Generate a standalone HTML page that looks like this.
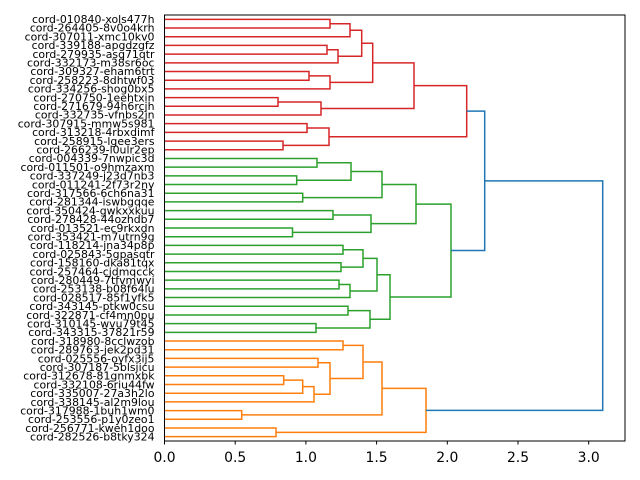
<!DOCTYPE html>
<html><head><meta charset="utf-8"><style>body{margin:0;background:#fff}svg{display:block}text{font-family:"DejaVu Sans","Liberation Sans",sans-serif;fill:#000}</style></head>
<body>
<svg id="s" width="640" height="480" viewBox="0 0 640 480" xmlns="http://www.w3.org/2000/svg">
<g id="lines" fill="none" stroke-width="1.5"></g>
<rect x="164.5" y="15" width="460.5" height="426" fill="none" stroke="#000" stroke-width="1"/>
<g font-size="13.9" text-anchor="middle">
<line x1="164.5" y1="441" x2="164.5" y2="444.5" stroke="#000"/><text x="164.5" y="462">0.0</text>
<line x1="235.2" y1="441" x2="235.2" y2="444.5" stroke="#000"/><text x="235.2" y="462">0.5</text>
<line x1="305.9" y1="441" x2="305.9" y2="444.5" stroke="#000"/><text x="305.9" y="462">1.0</text>
<line x1="376.6" y1="441" x2="376.6" y2="444.5" stroke="#000"/><text x="376.6" y="462">1.5</text>
<line x1="447.3" y1="441" x2="447.3" y2="444.5" stroke="#000"/><text x="447.3" y="462">2.0</text>
<line x1="518" y1="441" x2="518" y2="444.5" stroke="#000"/><text x="518" y="462">2.5</text>
<line x1="588.7" y1="441" x2="588.7" y2="444.5" stroke="#000"/><text x="588.7" y="462">3.0</text>
</g>
<g font-size="10.9" text-anchor="end" id="labels">
<text x="154.5" y="23">cord-010840-xols477h</text>
<text x="154.5" y="31.7">cord-264405-8v0o4krh</text>
<text x="154.5" y="40.4">cord-307011-xmc10kv0</text>
<text x="154.5" y="49.1">cord-339188-apgdzgfz</text>
<text x="154.5" y="57.8">cord-279935-asq71qtr</text>
<text x="154.5" y="66.5">cord-332173-m38sr6oc</text>
<text x="154.5" y="75.2">cord-309327-eham6trt</text>
<text x="154.5" y="83.9">cord-258223-8dhtwf03</text>
<text x="154.5" y="92.6">cord-334256-shog0bx5</text>
<text x="154.5" y="101.3">cord-270750-1eehtxin</text>
<text x="154.5" y="110">cord-271679-94h6rcjh</text>
<text x="154.5" y="118.7">cord-332735-vfnbs2jn</text>
<text x="154.5" y="127.4">cord-307915-mmw5s981</text>
<text x="154.5" y="136.1">cord-313218-4rbxdimf</text>
<text x="154.5" y="144.8">cord-258915-lgee3ers</text>
<text x="154.5" y="153.5">cord-266239-l0ulr2ep</text>
<text x="154.5" y="162.2">cord-004339-7nwpic3d</text>
<text x="154.5" y="170.9">cord-011501-o9hmzaxm</text>
<text x="154.5" y="179.6">cord-337249-j23d7nb3</text>
<text x="154.5" y="188.3">cord-011241-2f73r2ny</text>
<text x="154.5" y="197">cord-317566-6ch6na31</text>
<text x="154.5" y="205.7">cord-281344-iswbgqqe</text>
<text x="154.5" y="214.4">cord-350424-gwkxxkuu</text>
<text x="154.5" y="223.1">cord-278428-44ozhdb7</text>
<text x="154.5" y="231.8">cord-013521-ec9rkxdn</text>
<text x="154.5" y="240.5">cord-353421-m7utrn9g</text>
<text x="154.5" y="249.2">cord-118214-jna34p8p</text>
<text x="154.5" y="257.9">cord-025843-5gpasqtr</text>
<text x="154.5" y="266.6">cord-158160-dka81tqx</text>
<text x="154.5" y="275.3">cord-257464-cjdmqcck</text>
<text x="154.5" y="284">cord-280449-7tfvmwyi</text>
<text x="154.5" y="292.7">cord-253138-b08f64lu</text>
<text x="154.5" y="301.4">cord-028517-85f1yfk5</text>
<text x="154.5" y="310.1">cord-343145-ptkw0csu</text>
<text x="154.5" y="318.8">cord-322871-cf4mn0pu</text>
<text x="154.5" y="327.5">cord-310145-wvu79t45</text>
<text x="154.5" y="336.2">cord-343315-37821r59</text>
<text x="154.5" y="344.9">cord-318980-8cclwzob</text>
<text x="154.5" y="353.6">cord-289763-jek2pd31</text>
<text x="154.5" y="362.3">cord-025556-oyfx3ij5</text>
<text x="154.5" y="371">cord-307187-5blsjicu</text>
<text x="154.5" y="379.7">cord-312678-81gnmxbk</text>
<text x="154.5" y="388.4">cord-332108-6riu44fw</text>
<text x="154.5" y="397.1">cord-335007-27a3h2lo</text>
<text x="154.5" y="405.8">cord-338145-al2m9lou</text>
<text x="154.5" y="414.5">cord-317988-1buh1wm0</text>
<text x="154.5" y="423.2">cord-253556-p1y0zeo1</text>
<text x="154.5" y="431.9">cord-256771-kweh1doo</text>
<text x="154.5" y="440.6">cord-282526-b8tky324</text>
</g>
</svg>
<script>
var g=document.getElementById('lines');
function L(i){return {x:164.5,y:19.35+8.694*i};}
function N(x,a,b,c){if(typeof a=='number')a=L(a);if(typeof b=='number')b=L(b);
var p=document.createElementNS('http://www.w3.org/2000/svg','path');
p.setAttribute('d','M'+a.x+' '+a.y+'H'+x+'V'+b.y+'H'+b.x);p.setAttribute('stroke',c);g.appendChild(p);
return {x:x,y:(a.y+b.y)/2};}
var R='#d62728',G='#2ca02c',O='#ff7f0e',B='#1f77b4';
var r1=N(350,N(330,0,1,R),2,R),r2=N(338,N(327,3,4,R),5,R),rA=N(361.7,r1,r2,R);
var rB=N(330,N(309,6,7,R),8,R),rAB=N(372.7,rA,rB,R);
var rC=N(321,N(278,9,10,R),11,R),rABC=N(414,rAB,rC,R);
var rD=N(329,N(307,12,13,R),N(283,14,15,R),R),red=N(466.7,rABC,rD,R);
var g1=N(351,N(317,16,17,G),N(296.7,18,19,G),G),g2=N(382,g1,N(302.7,20,21,G),G);
var g3=N(371,N(333,22,23,G),N(292.5,24,25,G),G),g4=N(416,g2,g3,G);
var g5=N(363,N(343,26,27,G),N(341,28,29,G),G),g6=N(350,N(339,30,31,G),32,G),g7=N(377,g5,g6,G);
var g8=N(370,N(348,33,34,G),N(316,35,36,G),G),g9=N(390,g7,g8,G),green=N(451,g4,g9,G);
var o1=N(314,N(302.7,N(283.7,41,42,O),43,O),44,O),o2=N(330,N(318,39,40,O),o1,O),o3=N(363,N(343,37,38,O),o2,O);
var o4=N(382,o3,N(241.7,45,46,O),O),orange=N(426,o4,N(276,47,48,O),O);
var rg=N(484.7,red,green,B);N(602.7,rg,orange,B);
</script>
</body></html>
